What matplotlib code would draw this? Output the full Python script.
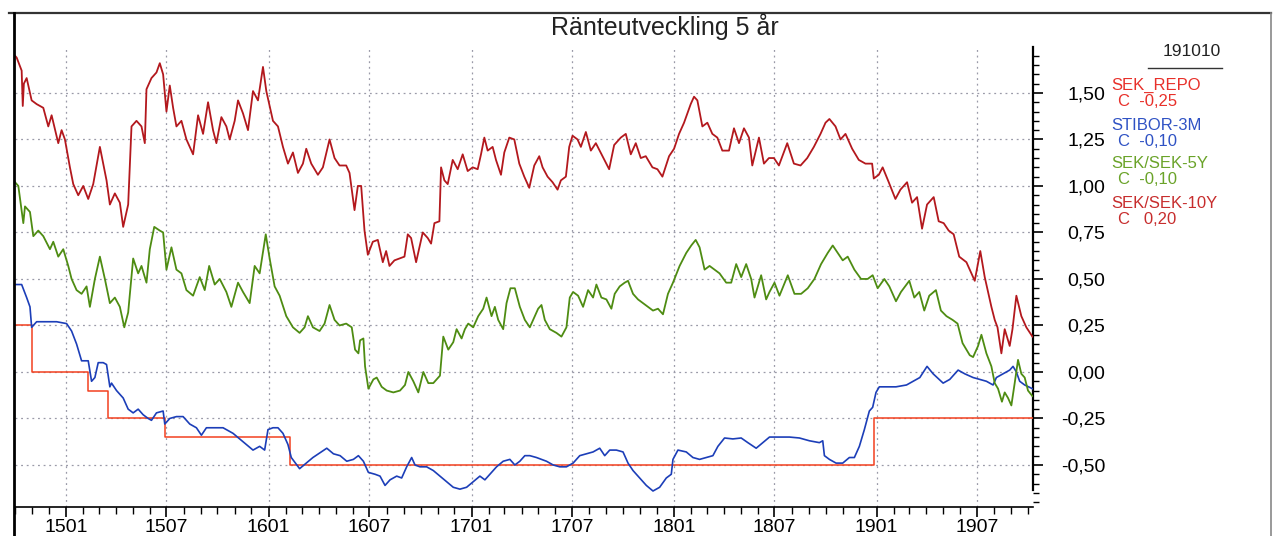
import pandas as pd
import matplotlib
matplotlib.use('Agg')
import matplotlib.pyplot as plt
import matplotlib.dates as mdates
from matplotlib.ticker import MultipleLocator, FuncFormatter
from matplotlib.lines import Line2D

plt.rcParams['font.family'] = ['Liberation Sans', 'DejaVu Sans']

# Startdatum, alla serier anges i dagar från detta datum
START = pd.Timestamp('2014-10-01')
END = pd.Timestamp('2019-10-10')

# SEK/SEK-10Y
y10_days = [0, 3, 12, 14, 16, 21, 30, 39, 51, 60, 66, 78, 84, 90, 99, 105, 114, 123, 132, 141,
            153, 165, 171, 180, 189, 195, 204, 210, 219, 228, 234, 237, 246, 255, 261, 267, 273,
            279, 285, 291, 300, 309, 321, 330, 339, 348, 357, 363, 372, 381, 387, 396, 402, 411,
            420, 429, 438, 447, 453, 465, 474, 483, 492, 501, 510, 519, 525, 534, 546, 555, 567,
            576, 585, 597, 603, 612, 618, 624, 630, 636, 645, 654, 663, 669, 675, 684, 693, 702,
            708, 714, 723, 735, 744, 750, 756, 765, 768, 774, 780, 789, 798, 807, 816, 825, 834,
            840, 846, 852, 861, 867, 876, 882, 891, 900, 909, 918, 927, 936, 945, 951, 960, 969,
            978, 984, 993, 999, 1005, 1014, 1020, 1029, 1038, 1047, 1059, 1071, 1080, 1092, 1101,
            1110, 1119, 1128, 1137, 1149, 1158, 1167, 1179, 1188, 1197, 1206, 1218, 1224, 1230,
            1239, 1248, 1257, 1266, 1275, 1287, 1296, 1305, 1314, 1323, 1329, 1341, 1350, 1359,
            1368, 1377, 1392, 1404, 1416, 1428, 1440, 1452, 1461, 1468, 1479, 1488, 1497, 1509,
            1521, 1533, 1545, 1548, 1557, 1564, 1575, 1587, 1596, 1608, 1617, 1626, 1635, 1644,
            1656, 1665, 1674, 1683, 1692, 1702, 1715, 1730, 1740, 1748, 1760, 1766, 1771, 1778,
            1784, 1793, 1798, 1805, 1814, 1823, 1834]
y10_vals = [1.70, 1.69, 1.62, 1.43, 1.55, 1.58, 1.46, 1.44, 1.42, 1.32, 1.38, 1.23, 1.30, 1.25, 1.10,
            1.01, 0.95, 1.00, 0.93, 1.01, 1.21, 1.03, 0.90, 0.96, 0.91, 0.78, 0.90, 1.32, 1.35, 1.32,
            1.23, 1.52, 1.58, 1.61, 1.66, 1.60, 1.40, 1.54, 1.42, 1.32, 1.35, 1.25, 1.17, 1.38, 1.28,
            1.45, 1.30, 1.23, 1.37, 1.32, 1.25, 1.35, 1.46, 1.39, 1.30, 1.51, 1.46, 1.64, 1.51, 1.35,
            1.32, 1.21, 1.12, 1.18, 1.07, 1.12, 1.20, 1.12, 1.06, 1.10, 1.25, 1.15, 1.11, 1.11, 1.07,
            0.87, 1.00, 1.00, 0.76, 0.63, 0.70, 0.71, 0.59, 0.65, 0.57, 0.60, 0.61, 0.62, 0.74, 0.72,
            0.59, 0.75, 0.72, 0.69, 0.80, 0.81, 1.10, 1.03, 1.01, 1.14, 1.09, 1.17, 1.08, 1.10, 1.09,
            1.17, 1.26, 1.19, 1.21, 1.14, 1.06, 1.18, 1.26, 1.25, 1.12, 1.05, 0.99, 1.11, 1.16, 1.10,
            1.05, 1.02, 0.98, 1.03, 1.05, 1.21, 1.27, 1.25, 1.21, 1.29, 1.19, 1.23, 1.16, 1.09, 1.22,
            1.26, 1.28, 1.17, 1.23, 1.15, 1.16, 1.10, 1.09, 1.05, 1.16, 1.20, 1.28, 1.34, 1.44, 1.48,
            1.46, 1.32, 1.34, 1.28, 1.26, 1.19, 1.19, 1.31, 1.23, 1.31, 1.26, 1.11, 1.26, 1.12, 1.15,
            1.15, 1.11, 1.23, 1.12, 1.11, 1.15, 1.21, 1.28, 1.34, 1.36, 1.32, 1.25, 1.28, 1.20, 1.14,
            1.12, 1.12, 1.04, 1.06, 1.10, 1.02, 0.93, 0.98, 1.02, 0.91, 0.94, 0.77, 0.90, 0.94, 0.81,
            0.80, 0.76, 0.74, 0.62, 0.59, 0.49, 0.65, 0.51, 0.35, 0.28, 0.24, 0.10, 0.23, 0.14, 0.23,
            0.41, 0.30, 0.24, 0.19]

# SEK/SEK-5Y
y5_days = [0, 6, 15, 18, 27, 33, 42, 51, 63, 69, 78, 87, 96, 102, 111, 120, 129, 135, 144, 153,
           162, 171, 180, 189, 197, 204, 213, 222, 228, 237, 243, 251, 261, 267, 273, 282, 291, 300,
           309, 321, 333, 342, 350, 360, 369, 381, 390, 402, 411, 423, 432, 441, 452, 459, 468, 477,
           489, 501, 513, 522, 528, 537, 549, 558, 567, 576, 585, 597, 607, 613, 619, 622, 628, 631,
           637, 646, 652, 661, 670, 682, 694, 703, 709, 718, 727, 736, 745, 754, 766, 772, 781, 790,
           796, 805, 811, 817, 826, 835, 844, 850, 859, 865, 871, 880, 886, 893, 901, 910, 919, 928,
           937, 943, 949, 955, 964, 976, 985, 994, 1000, 1006, 1015, 1024, 1033, 1042, 1048, 1057,
           1066, 1075, 1081, 1090, 1099, 1105, 1114, 1123, 1132, 1141, 1150, 1159, 1168, 1177, 1186,
           1198, 1210, 1219, 1227, 1234, 1243, 1252, 1261, 1270, 1282, 1291, 1300, 1309, 1318, 1327,
           1333, 1345, 1354, 1360, 1369, 1378, 1393, 1405, 1417, 1429, 1441, 1453, 1465, 1474, 1483,
           1492, 1501, 1513, 1525, 1537, 1546, 1555, 1567, 1576, 1588, 1597, 1612, 1621, 1630, 1639,
           1648, 1660, 1669, 1679, 1690, 1699, 1708, 1721, 1727, 1736, 1742, 1751, 1760, 1766, 1772,
           1779, 1784, 1790, 1796, 1802, 1808, 1814, 1820, 1826, 1834]
y5_vals = [1.02, 1.00, 0.80, 0.89, 0.86, 0.73, 0.76, 0.73, 0.66, 0.70, 0.62, 0.66, 0.57, 0.50, 0.44,
           0.42, 0.46, 0.35, 0.50, 0.62, 0.50, 0.37, 0.40, 0.35, 0.24, 0.32, 0.61, 0.53, 0.57, 0.48,
           0.66, 0.78, 0.76, 0.75, 0.55, 0.67, 0.55, 0.53, 0.44, 0.41, 0.51, 0.44, 0.57, 0.47, 0.50,
           0.43, 0.35, 0.48, 0.43, 0.37, 0.57, 0.53, 0.74, 0.61, 0.46, 0.41, 0.30, 0.24, 0.21, 0.24,
           0.30, 0.24, 0.22, 0.26, 0.36, 0.28, 0.25, 0.26, 0.24, 0.12, 0.10, 0.17, 0.18, 0.03, -0.09,
           -0.04, -0.03, -0.08, -0.10, -0.11, -0.10, -0.07, 0.00, -0.05, -0.11, 0.00, -0.06, -0.06,
           -0.02, 0.19, 0.12, 0.16, 0.23, 0.18, 0.23, 0.26, 0.24, 0.30, 0.34, 0.40, 0.30,
           0.35, 0.28, 0.23, 0.37, 0.45, 0.45, 0.35, 0.28, 0.24, 0.30, 0.34, 0.36, 0.28, 0.23, 0.21,
           0.19, 0.24, 0.40, 0.43, 0.41, 0.35, 0.44, 0.40, 0.47, 0.40, 0.39, 0.34, 0.42, 0.46, 0.48,
           0.49, 0.42, 0.39, 0.37, 0.35, 0.33, 0.34, 0.31, 0.42, 0.48, 0.57, 0.64, 0.68, 0.71, 0.67,
           0.55, 0.57, 0.55, 0.53, 0.48, 0.48, 0.58, 0.51, 0.58, 0.50, 0.40, 0.52, 0.39, 0.43, 0.48,
           0.41, 0.52, 0.42, 0.42, 0.45, 0.50, 0.58, 0.64, 0.68, 0.64, 0.60, 0.62, 0.55, 0.50, 0.50,
           0.52, 0.45, 0.50, 0.46, 0.38, 0.43, 0.49, 0.40, 0.43, 0.33, 0.41, 0.44, 0.33, 0.30, 0.28,
           0.26, 0.155, 0.09, 0.08, 0.14, 0.20, 0.10, 0.03, -0.06, -0.09, -0.16, -0.11, -0.14, -0.18,
           -0.06, 0.065, -0.01, -0.03, -0.10, -0.13]

# STIBOR-3M
st_days = [0, 12, 21, 27, 30, 39, 57, 75, 93, 102, 111, 120, 132, 138, 144, 150, 159, 165, 171, 174,
           183, 195, 204, 213, 222, 231, 240, 246, 255, 267, 270, 279, 291, 303, 315, 327, 336, 345,
           357, 375, 393, 405, 417, 429, 441, 450, 456, 465, 474, 483, 492, 498, 513, 525, 537, 562,
           574, 586, 598, 610, 619, 628, 637, 649, 658, 667, 676, 688, 697, 706, 715, 721, 730, 742,
           754, 766, 778, 790, 802, 814, 826, 838, 847, 856, 868, 880, 892, 901, 910, 919, 928, 940,
           958, 970, 982, 994, 1006, 1018, 1030, 1042, 1054, 1063, 1072, 1084, 1096, 1105, 1114,
           1126, 1138, 1150, 1162, 1174, 1183, 1186, 1195, 1210, 1222, 1234, 1246, 1258, 1267, 1279,
           1294, 1309, 1321, 1336, 1348, 1360, 1378, 1396, 1414, 1432, 1450, 1456, 1459, 1468, 1480,
           1492, 1504, 1513, 1522, 1531, 1540, 1546, 1552, 1558, 1570, 1588, 1607, 1619, 1631, 1644,
           1655, 1673, 1685, 1700, 1712, 1727, 1739, 1751, 1763, 1769, 1781, 1793, 1799, 1805, 1811,
           1820, 1834]
st_vals = [0.47, 0.47, 0.40, 0.35, 0.24, 0.27, 0.27, 0.27, 0.26, 0.22, 0.15, 0.06, 0.06, -0.05, -0.03,
           0.05, 0.05, 0.04, -0.08, -0.06, -0.10, -0.14, -0.20, -0.22, -0.20, -0.23, -0.25, -0.26,
           -0.22, -0.21, -0.28, -0.25, -0.24, -0.24, -0.28, -0.30, -0.34, -0.30, -0.30, -0.30, -0.33,
           -0.36, -0.39, -0.42, -0.40, -0.42, -0.31, -0.30, -0.30, -0.33, -0.39, -0.46, -0.52, -0.49,
           -0.46, -0.41, -0.44, -0.45, -0.48, -0.47, -0.45, -0.48, -0.54, -0.55, -0.56, -0.61, -0.58,
           -0.56, -0.57, -0.51, -0.46, -0.50, -0.51, -0.51, -0.53, -0.56, -0.59, -0.62, -0.63, -0.62,
           -0.59, -0.56, -0.58, -0.55, -0.51, -0.48, -0.47, -0.50, -0.48, -0.45, -0.45, -0.46, -0.48,
           -0.50, -0.51, -0.51, -0.49, -0.45, -0.44, -0.43, -0.41, -0.45, -0.42, -0.42, -0.43, -0.49,
           -0.53, -0.57, -0.61, -0.64, -0.62, -0.57, -0.55, -0.47, -0.42, -0.43, -0.46, -0.47, -0.46,
           -0.45, -0.40, -0.355, -0.36, -0.355, -0.38, -0.41, -0.38, -0.35, -0.35, -0.35, -0.355,
           -0.37, -0.38, -0.37, -0.45, -0.47, -0.49, -0.49, -0.46, -0.46, -0.40, -0.31, -0.21, -0.19,
           -0.11, -0.08, -0.08, -0.08, -0.07, -0.05, -0.03, 0.03, -0.01, -0.06, -0.04, 0.01, -0.01,
           -0.03, -0.04, -0.05, -0.07, -0.03, -0.01, 0.01, 0.03, 0.00, -0.05, -0.07, -0.09]

# SEK_REPO (reporäntan, trappsteg som de ligger i bilden)
repo_dates = ['2014-10-01', '2014-10-31', '2015-02-10', '2015-03-18', '2015-06-29',
              '2016-02-09', '2018-12-27', '2019-10-10']
repo_vals = [0.25, 0.00, -0.10, -0.25, -0.35, -0.50, -0.25, -0.25]

# Legend / etiketter
legend_date = '191010'
legend_items = [('SEK_REPO', 'C  -0,25', '#e8302a'),
                ('STIBOR-3M', 'C  -0,10', '#2f52c4'),
                ('SEK/SEK-5Y', 'C  -0,10', '#6aa329'),
                ('SEK/SEK-10Y', 'C   0,20', '#c72d2d')]

W, H = 1279, 536


def fx(px):
    return px / W


def fy(py):
    return 1 - py / H


def to_dates(days):
    return START + pd.to_timedelta(days, unit='D')


fig = plt.figure(figsize=(W / 100, H / 100), dpi=100)
fig.patch.set_facecolor('white')
ax = fig.add_axes([fx(15), fy(507), fx(1033) - fx(15), fy(47) - fy(507)])

ax.plot(pd.to_datetime(repo_dates), repo_vals, drawstyle='steps-post', color='#f2401f', lw=1.1, zorder=3)
ax.plot(to_dates(st_days), st_vals, color='#1c3eb8', lw=1.2, zorder=4)
ax.plot(to_dates(y5_days), y5_vals, color='#4e8c12', lw=1.3, zorder=4)
ax.plot(to_dates(y10_days), y10_vals, color='#b3181d', lw=1.3, zorder=4)

ax.set_xlim(START, END)
ax.set_ylim(-0.726, 1.747)

# Axlar
ax.spines['top'].set_visible(False)
ax.spines['left'].set_visible(False)
ax.spines['right'].set_bounds(-0.635, 1.747)
ax.spines['right'].set_linewidth(1.6)
ax.spines['bottom'].set_linewidth(1.2)
ax.yaxis.tick_right()
ax.yaxis.set_major_locator(MultipleLocator(0.25))
ax.yaxis.set_minor_locator(MultipleLocator(0.05))
ax.yaxis.set_major_formatter(FuncFormatter(lambda v, p: f'{v:.2f}'.replace('.', ',').replace('-0,00', '0,00')))
ax.tick_params(axis='y', which='major', length=7, width=1.2, labelsize=14, pad=45, direction='out')
ax.tick_params(axis='y', which='minor', length=4, width=1.0, direction='out')
for t in ax.yaxis.get_major_ticks():
    t.label2.set_horizontalalignment('right')

ax.xaxis.set_major_locator(mdates.MonthLocator(bymonth=[1, 7]))
ax.xaxis.set_minor_locator(mdates.MonthLocator())
ax.xaxis.set_major_formatter(mdates.DateFormatter('%y%m'))
ax.tick_params(axis='x', which='major', length=7, width=1.2, labelsize=14, pad=2, direction='out')
ax.tick_params(axis='x', which='minor', length=5, width=1.0, direction='out')

ax.grid(True, which='major', color='#9a9aa8', linestyle=(0, (1.5, 3)), linewidth=0.9)

# Ram runt hela diagrammet
frame_kw = dict(color='#333333', lw=1.6, transform=fig.transFigure)
fig.add_artist(Line2D([fx(9), fx(1271)], [fy(13), fy(13)], **frame_kw))
fig.add_artist(Line2D([fx(14), fx(14)], [fy(13), 0], color='black', lw=2.0, transform=fig.transFigure))
fig.add_artist(Line2D([fx(1271), fx(1271)], [fy(13), 0], color='#888888', lw=1.2, transform=fig.transFigure))

# Titel
fig.text(fx(665), fy(27), 'Ränteutveckling 5 år', ha='center', va='center', fontsize=18,
         color='#222222')

# Legend till höger
fig.text(fx(1192), fy(52), legend_date, ha='center', va='center', fontsize=12.5,
         color='#222222')
fig.add_artist(Line2D([fx(1148), fx(1222)], [fy(68), fy(68)], color='#333333', lw=1.0,
                      transform=fig.transFigure))
row_y = [85, 125, 164, 204]
for (name, val, col), ry in zip(legend_items, row_y):
    fig.text(fx(1111), fy(ry), name, ha='left', va='center', fontsize=12,
             color=col)
    fig.text(fx(1118), fy(ry + 16), val, ha='left', va='center', fontsize=12,
             color=col)

fig.savefig('out.png', dpi=100)
